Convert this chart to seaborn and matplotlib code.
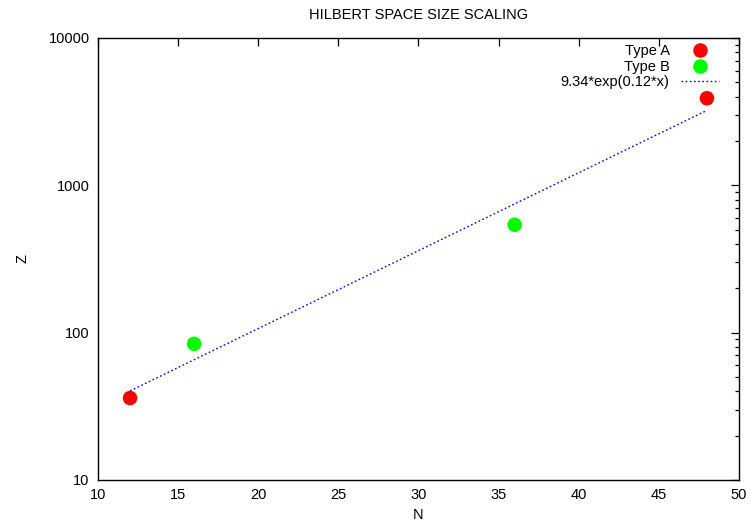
import numpy as np
import pandas as pd
import matplotlib
matplotlib.use("Agg")
import matplotlib.pyplot as plt
import matplotlib.ticker as mticker
import seaborn as sns

# Hilbert space size Z for lattice size N
n_type_a = [12, 48]
z_type_a = [36, 3900]
n_type_b = [16, 36]
z_type_b = [84, 540]

sns.set_theme(style="white")
plt.rcParams["font.family"] = ["Liberation Sans", "DejaVu Sans"]
plt.rcParams["font.size"] = 10.5
for key in ("text.color", "axes.labelcolor", "xtick.color", "ytick.color"):
    plt.rcParams[key] = "black"

df = pd.DataFrame({
    "N": n_type_a + n_type_b,
    "Z": z_type_a + z_type_b,
    "type": ["Type A"] * len(n_type_a) + ["Type B"] * len(n_type_b),
})

# exponential fit Z = a * exp(b * N)
b_fit, ln_a = np.polyfit(df["N"], np.log(df["Z"]), 1)
a_fit = np.exp(ln_a)
fit_label = f"{a_fit:.2f}*exp({b_fit:.2f}*x)"
n_line = np.linspace(min(df["N"]), max(df["N"]), 200)
fit_df = pd.DataFrame({"N": n_line, "Z": a_fit * np.exp(b_fit * n_line)})

fig = plt.figure(figsize=(7.51, 5.27), dpi=100)
ax = fig.add_axes([0.1305, 0.0892, 0.8535, 0.8387])

sns.scatterplot(data=df, x="N", y="Z", hue="type",
                palette={"Type A": "#ff0000", "Type B": "#00ff00"},
                s=110, edgecolor="none", ax=ax, zorder=3)
sns.lineplot(data=fit_df, x="N", y="Z", color="#0000ff", lw=1.0,
             linestyle=(0, (1.2, 1.8)), label=fit_label, ax=ax, zorder=2)

ax.set_yscale("log")
ax.set_xlim(10, 50)
ax.set_ylim(10, 10000)
ax.xaxis.set_major_locator(mticker.MultipleLocator(5))
ax.yaxis.set_major_locator(mticker.LogLocator(base=10))
ax.yaxis.set_minor_locator(mticker.LogLocator(base=10, subs=np.arange(2, 10)))
ax.yaxis.set_major_formatter(mticker.FuncFormatter(lambda v, p: f"{int(round(v))}"))
ax.yaxis.set_minor_formatter(mticker.NullFormatter())

ax.tick_params(which="both", direction="in", top=True, right=True,
               color="black", labelcolor="black", labelsize=10.5, pad=6)
ax.tick_params(which="major", length=6, width=0.9)
ax.tick_params(which="minor", length=3, width=0.9)
for s in ax.spines.values():
    s.set_color("black")
    s.set_linewidth(1.0)

ax.set_xlabel("N", fontsize=10.5, labelpad=4)
ax.set_ylabel("Z", fontsize=10.5, labelpad=14)
ax.set_title("HILBERT SPACE SIZE SCALING", fontsize=10.5, pad=14)

handles, labels = ax.get_legend_handles_labels()
ax.legend(handles, labels, loc="upper right", frameon=False,
          bbox_to_anchor=(0.985, 1.009),
          markerfirst=False, fontsize=10.5, handlelength=2.6,
          handletextpad=0.8, labelspacing=0.1, borderaxespad=0.3,
          markerscale=1.0)

fig.savefig("out.png", dpi=100)
